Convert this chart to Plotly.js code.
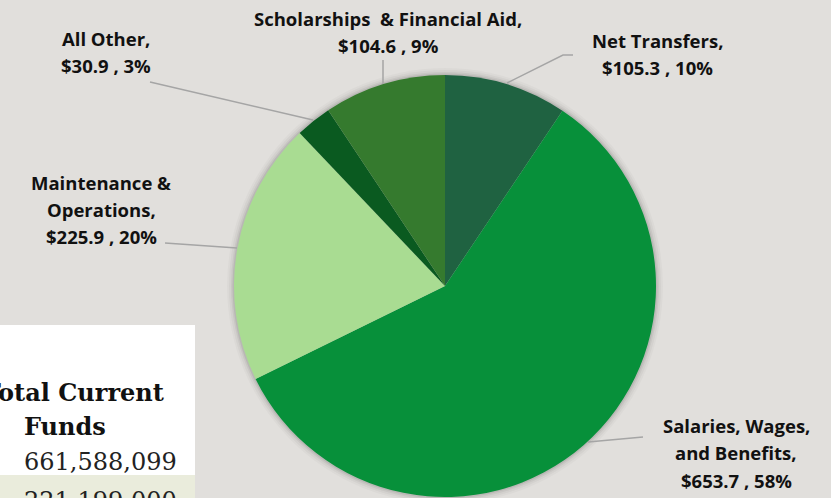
<!DOCTYPE html>
<html>
<head>
<meta charset="utf-8">
<script src="https://cdn.plot.ly/plotly-3.0.1.min.js"></script>
<style>html,body{margin:0;padding:0;background:#e1dfdc;}#chart{width:831px;height:498px;}</style>
</head>
<body>
<div id="chart"></div>
<script>
// ---- data ----
const categories = ["Net Transfers", "Salaries, Wages, and Benefits", "Maintenance & Operations", "All Other", "Scholarships & Financial Aid"];
const amounts = [105.3, 653.7, 225.9, 30.9, 104.6];
const percents = [10, 58, 20, 3, 9];
const labelNameLines = [
  ["Net Transfers,"],
  ["Salaries, Wages,", "and Benefits,"],
  ["Maintenance &", "Operations,"],
  ["All Other,"],
  ["Scholarships  & Financial Aid,"]
];
const tableHeader = ["Total Current", "Funds"];
const tableValues = ["661,588,099", "221,199,000"];

// ---- styles / positions ----
const colors = ["#1f6241", "#07903a", "#a9dc92", "#0a5a20", "#357a2e"];
const W = 831, H = 498;
const px = x => x / W;
const py = y => 1 - y / H;
// label anchor positions (center x, first-line y), in pixels
const labelPos = [
  {x: 657, y: 40},
  {x: 736, y: 425},
  {x: 101, y: 182},
  {x: 106, y: 38},
  {x: 388, y: 18}
];
const lineGap = 27.5;
const leaders = [
  [[573,55],[563,55],[507,83]],
  [[643,437],[588,442]],
  [[165,243],[237,248]],
  [[150,82],[313,120]],
  [[383,60],[383,84]]
];
const labelFont = {family: "'Open Sans', sans-serif", size: 18.5, color: "#111111", weight: "bold"};

const annotations = [];
categories.forEach((c, i) => {
  const lines = labelNameLines[i].concat(["$" + amounts[i].toFixed(1) + " , " + percents[i] + "%"]);
  lines.forEach((t, k) => {
    annotations.push({
      xref: "paper", yref: "paper", x: px(labelPos[i].x), y: py(labelPos[i].y + k * lineGap),
      text: t, showarrow: false, xanchor: "center", yanchor: "middle", font: labelFont
    });
  });
});
// table text
const serifB = {family:"'DejaVu Serif', serif", size: 24, color:"#111", weight: "bold"};
const serifR = {family:"'DejaVu Serif', serif", size: 24, color:"#222"};
annotations.push({xref:"paper", yref:"paper", x: px(166), y: py(392), text: tableHeader[0], showarrow:false, xanchor:"right", yanchor:"middle", font: serifB});
annotations.push({xref:"paper", yref:"paper", x: px(65), y: py(426), text: tableHeader[1], showarrow:false, xanchor:"center", yanchor:"middle", font: serifB});
annotations.push({xref:"paper", yref:"paper", x: px(100), y: py(462), text: tableValues[0], showarrow:false, xanchor:"center", yanchor:"middle", font: serifR});
annotations.push({xref:"paper", yref:"paper", x: px(100), y: py(501), text: tableValues[1], showarrow:false, xanchor:"center", yanchor:"middle", font: serifR});

const shapes = [];
// pie soft shadow
const cx = 445, cy = 286, r = 211;
[[7, 0.025], [5, 0.035], [3, 0.05], [1.5, 0.07]].forEach(([d, a]) => {
  shapes.push({type:"circle", xref:"paper", yref:"paper", layer:"below",
    x0: px(cx - r - d), x1: px(cx + r + d), y0: py(cy + r + d), y1: py(cy - r - d),
    fillcolor: "rgba(0,0,0," + a + ")", line: {width: 0}});
});
// table box
shapes.push({type:"rect", xref:"paper", yref:"paper", layer:"below", x0: 0, x1: px(195), y0: py(498), y1: py(325), fillcolor:"#ffffff", line:{width:0}});
shapes.push({type:"rect", xref:"paper", yref:"paper", layer:"below", x0: 0, x1: px(195), y0: py(500), y1: py(475), fillcolor:"#eaecdc", line:{width:0}});
// leader lines
leaders.forEach(pts => {
  const d = pts.map((p, k) => (k ? "L" : "M") + px(p[0]) + "," + py(p[1])).join(" ");
  shapes.push({type:"path", xref:"paper", yref:"paper", path: d, line:{color:"#a5a5a5", width:1.5}});
});

const trace = {
  type: "pie",
  labels: categories,
  values: amounts,
  sort: false,
  direction: "clockwise",
  rotation: 0,
  textinfo: "none",
  hoverinfo: "label+value",
  marker: {colors: colors, line: {width: 0}},
  domain: {x: [px(cx - r), px(cx + r)], y: [py(cy + r), py(cy - r)]},
  showlegend: false
};

Plotly.newPlot("chart", [trace], {
  width: W, height: H,
  margin: {l:0, r:0, t:0, b:0},
  paper_bgcolor: "#e1dfdc",
  plot_bgcolor: "#e1dfdc",
  showlegend: false,
  annotations: annotations,
  shapes: shapes
}, {displayModeBar: false, staticPlot: true});
</script>
</body>
</html>
